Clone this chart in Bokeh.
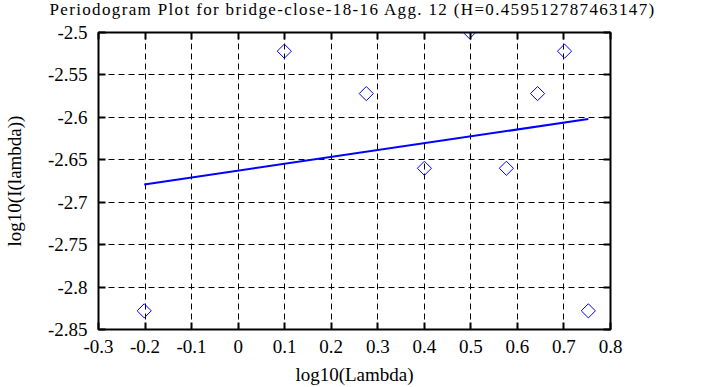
from bokeh.plotting import figure
from bokeh.models import LinearAxis, FixedTicker, Range1d, ColumnDataSource, CustomJSTickFormatter, Div
from bokeh.layouts import column
from bokeh.embed import file_html
from bokeh.resources import INLINE
import math

title_text = "Periodogram Plot for bridge-close-18-16 Agg. 12 (H=0.459512787463147)"
x_label = "log10(Lambda)"
y_label = "log10(I(lambda))"

log_lambda = [-0.2018, 0.0992, 0.2753, 0.4002, 0.4971, 0.5763, 0.6433, 0.7013, 0.7524]
log_I = [-2.828, -2.522, -2.572, -2.660, -2.499, -2.660, -2.572, -2.522, -2.828]

fit_x = [-0.2018, 0.7524]
fit_y = [-2.679, -2.602]

x_ticks = [-0.3, -0.2, -0.1, 0.0, 0.1, 0.2, 0.3, 0.4, 0.5, 0.6, 0.7, 0.8]
y_ticks = [-2.85, -2.8, -2.75, -2.7, -2.65, -2.6, -2.55, -2.5]

FONT = "Liberation Serif"
W, H = 705, 387
TITLE_H = 20
ML, MR, MT, MB = 94, 95, 12, 57

title_div = Div(text=title_text, width=W, height=TITLE_H, margin=0,
                styles={"font-family": FONT, "font-size": "17px", "line-height": "20px",
                        "letter-spacing": "1.35px", "text-align": "center",
                        "color": "black", "padding": "0", "white-space": "nowrap"})

p = figure(width=W, height=H - TITLE_H, output_backend="svg", toolbar_location=None,
           x_range=Range1d(-0.3, 0.8), y_range=Range1d(-2.85, -2.5),
           min_border_left=ML, min_border_right=MR, min_border_top=MT, min_border_bottom=MB,
           x_axis_location=None, y_axis_location=None, margin=0)

p.outline_line_color = "black"
p.outline_line_width = 2
p.background_fill_color = "white"
p.border_fill_color = "white"

fmt_code = "return String(Math.round(tick * 100) / 100);"

def make_axis(ticks, show_labels, axis_label=None):
    ax = LinearAxis(ticker=FixedTicker(ticks=ticks),
                    formatter=CustomJSTickFormatter(code=fmt_code))
    ax.major_tick_in = 7
    ax.major_tick_out = 0
    ax.minor_tick_in = 0
    ax.minor_tick_out = 0
    ax.major_tick_line_width = 2
    ax.minor_tick_line_color = None
    ax.axis_line_color = None
    ax.major_label_text_font = FONT
    ax.major_label_text_font_size = "19px"
    ax.major_label_text_color = "black"
    if not show_labels:
        ax.major_label_text_font_size = "0px"
        ax.major_label_text_alpha = 0
        ax.major_label_standoff = 0
    if axis_label:
        ax.axis_label = axis_label
        ax.axis_label_text_font = FONT
        ax.axis_label_text_font_size = "19px"
        ax.axis_label_text_font_style = "normal"
        ax.axis_label_text_color = "black"
    return ax

xb = make_axis(x_ticks, True, x_label)
xb.major_label_standoff = 10
xb.axis_label_standoff = 8
yl = make_axis(y_ticks, True, y_label)
yl.major_label_standoff = 11
yl.axis_label_standoff = 20
xt = make_axis(x_ticks, False)
yr = make_axis(y_ticks, False)

p.add_layout(xb, "below")
p.add_layout(yl, "left")
p.add_layout(xt, "above")
p.add_layout(yr, "right")

p.xgrid.ticker = FixedTicker(ticks=x_ticks)
p.ygrid.ticker = FixedTicker(ticks=y_ticks)
p.xgrid.grid_line_color = "black"
p.ygrid.grid_line_color = "black"
p.xgrid.grid_line_dash = "6 4"
p.ygrid.grid_line_dash = "6 4"
p.xgrid.grid_line_width = 1
p.ygrid.grid_line_width = 1
p.xgrid.grid_line_alpha = 1
p.ygrid.grid_line_alpha = 1

src = ColumnDataSource(dict(x=log_lambda, y=log_I))
p.scatter("x", "y", source=src, marker="square", size=10, angle=math.pi / 4,
          fill_color=None, line_color="blue", line_width=1)

p.line(fit_x, fit_y, line_color="blue", line_width=2)

layout = column(title_div, p, spacing=0)
open("out.html", "w").write(file_html(layout, INLINE))
